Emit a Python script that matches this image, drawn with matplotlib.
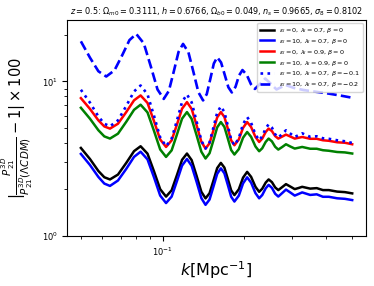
import matplotlib
matplotlib.use("Agg")
import matplotlib.pyplot as plt
import numpy as np

# k grid shared by the first five curves [Mpc^-1]
k = [0.050, 0.054, 0.058, 0.061, 0.064, 0.0685, 0.0735, 0.0785, 0.083, 0.088,
     0.093, 0.098, 0.103, 0.108, 0.113, 0.118, 0.123, 0.128, 0.1335, 0.139,
     0.144, 0.149, 0.154, 0.159, 0.164, 0.169, 0.174, 0.179, 0.184, 0.191,
     0.198, 0.205, 0.212, 0.220, 0.227, 0.233, 0.240, 0.246, 0.253, 0.260,
     0.267, 0.276, 0.285, 0.296, 0.307, 0.317, 0.327, 0.35, 0.37, 0.39,
     0.41, 0.44, 0.47, 0.50]

eps0_lam07 = [3.713, 3.149, 2.634, 2.399, 2.322, 2.497, 2.973, 3.540, 3.808, 3.411,
              2.617, 2.007, 1.798, 1.975, 2.479, 3.111, 3.416, 3.097, 2.446, 1.931,
              1.751, 1.891, 2.280, 2.751, 2.971, 2.771, 2.337, 1.972, 1.839, 2.004,
              2.385, 2.599, 2.413, 2.080, 1.931, 2.022, 2.217, 2.322, 2.230, 2.062,
              1.981, 2.071, 2.165, 2.086, 2.010, 2.043, 2.080, 2.025, 2.040, 1.981,
              1.981, 1.937, 1.922, 1.886]

eps10_lam07 = [3.397, 2.881, 2.410, 2.183, 2.108, 2.285, 2.720, 3.250, 3.511, 3.131,
               2.395, 1.826, 1.633, 1.797, 2.268, 2.856, 3.150, 2.843, 2.238, 1.757,
               1.590, 1.721, 2.086, 2.525, 2.739, 2.544, 2.138, 1.795, 1.670, 1.824,
               2.189, 2.396, 2.215, 1.893, 1.753, 1.840, 2.035, 2.141, 2.047, 1.876,
               1.799, 1.895, 1.996, 1.909, 1.825, 1.869, 1.914, 1.843, 1.860, 1.793,
               1.793, 1.753, 1.739, 1.707]

eps0_lam09 = [7.803, 6.647, 5.603, 5.117, 4.953, 5.328, 6.343, 7.553, 8.122, 7.266,
              5.533, 4.212, 3.769, 4.156, 5.265, 6.667, 7.353, 6.647, 5.202, 4.071,
              3.680, 3.981, 4.830, 5.858, 6.338, 5.893, 4.949, 4.156, 3.865, 4.212,
              5.012, 5.463, 5.073, 4.372, 4.059, 4.266, 4.713, 4.953, 4.773, 4.431,
              4.268, 4.398, 4.530, 4.398, 4.268, 4.320, 4.372, 4.256, 4.256, 4.163,
              4.131, 4.041, 4.011, 3.923]

eps10_lam09 = [6.757, 5.743, 4.835, 4.411, 4.270, 4.593, 5.487, 6.556, 7.074, 6.307,
               4.786, 3.631, 3.249, 3.582, 4.538, 5.747, 6.338, 5.730, 4.484, 3.509,
               3.172, 3.432, 4.163, 5.050, 5.463, 5.080, 4.276, 3.599, 3.366, 3.648,
               4.325, 4.709, 4.383, 3.795, 3.535, 3.694, 4.067, 4.270, 4.095, 3.780,
               3.624, 3.765, 3.923, 3.791, 3.679, 3.724, 3.769, 3.669, 3.669, 3.589,
               3.561, 3.495, 3.474, 3.417]

beta_m01 = [8.841, 7.298, 5.937, 5.328, 5.126, 5.603, 6.949, 8.620, 9.424, 8.256,
            5.991, 4.346, 3.808, 4.263, 5.603, 7.364, 8.244, 7.331, 5.508, 4.138,
            3.680, 4.035, 5.039, 6.292, 6.898, 6.338, 5.164, 4.206, 3.865, 4.295,
            5.297, 5.885, 5.400, 4.537, 4.163, 4.418, 4.976, 5.280, 5.027, 4.550,
            4.333, 4.574, 4.830, 4.595, 4.372, 4.494, 4.618, 4.385, 4.418, 4.289,
            4.256, 4.163, 4.101, 3.999]

# beta = -0.2 curve has its own k sampling
k_b02 = [0.050, 0.054, 0.058, 0.062, 0.0665, 0.071, 0.0755, 0.080, 0.0853, 0.0905,
         0.0958, 0.101, 0.1055, 0.110, 0.1145, 0.119, 0.1245, 0.130, 0.1355, 0.141,
         0.1455, 0.150, 0.1545, 0.159, 0.1643, 0.1695, 0.1748, 0.180, 0.1857, 0.1913,
         0.197, 0.2043, 0.2117, 0.219, 0.229, 0.239, 0.251, 0.263, 0.2735, 0.284,
         0.305, 0.33, 0.36, 0.40, 0.45, 0.50]
beta_m02 = [18.20, 14.27, 11.65, 10.77, 11.81, 14.79, 18.53, 20.31, 17.64, 12.52,
            8.879, 7.711, 8.697, 11.62, 15.52, 17.51, 15.48, 11.49, 8.531, 7.541,
            8.281, 10.40, 13.07, 14.35, 13.28, 11.04, 9.175, 8.492, 9.230, 10.92,
            11.86, 11.05, 9.601, 8.946, 9.672, 10.45, 9.636, 8.879, 9.182, 9.493,
            9.082, 8.814, 8.620, 8.404, 8.122, 7.848]

labels = [r'$\varepsilon_l=0,\,\lambda_l=0.7,\,\beta=0$',
          r'$\varepsilon_l=10,\,\lambda_l=0.7,\,\beta=0$',
          r'$\varepsilon_l=0,\,\lambda_l=0.9,\,\beta=0$',
          r'$\varepsilon_l=10,\,\lambda_l=0.9,\,\beta=0$',
          r'$\varepsilon_l=10,\,\lambda_l=0.7,\,\beta=-0.1$',
          r'$\varepsilon_l=10,\,\lambda_l=0.7,\,\beta=-0.2$']

title = (r'$z=0.5$: $\Omega_{m0}=0.3111$, $h=0.6766$, $\Omega_{b0}=0.049$, '
         r'$n_s=0.9665$, $\sigma_8=0.8102$')

fig = plt.figure(figsize=(3.74, 2.86), dpi=100)
ax = fig.add_axes([0.18, 0.175, 0.798, 0.755])

ax.plot(k, eps0_lam07, color='black', lw=1.8, label=labels[0])
ax.plot(k, eps10_lam07, color='blue', lw=1.8, label=labels[1])
ax.plot(k, eps0_lam09, color='red', lw=1.8, label=labels[2])
ax.plot(k, eps10_lam09, color='green', lw=1.8, label=labels[3])
ax.plot(k, beta_m01, color='blue', lw=1.9, ls=':', label=labels[4])
ax.plot(k_b02, beta_m02, color='blue', lw=1.9, ls='--', label=labels[5])

ax.set_xscale('log')
ax.set_yscale('log')
ax.set_ylim(1, 25)
ax.tick_params(labelsize=6)

ax.set_xlabel(r'$k[\mathrm{Mpc}^{-1}]$', fontsize=11.5, labelpad=1)
ax.set_ylabel(r'$|\frac{P_{21}^{3D}}{P_{21}^{3D}(\Lambda CDM)}-1|\times 100$',
              fontsize=10.5, labelpad=5)
ax.set_title(title, fontsize=5.9, pad=4)

ax.legend(loc='upper right', fontsize=4.6, handlelength=2.2, labelspacing=0.3,
          borderpad=0.4, handletextpad=0.8)

fig.savefig('out.png', dpi=100)
